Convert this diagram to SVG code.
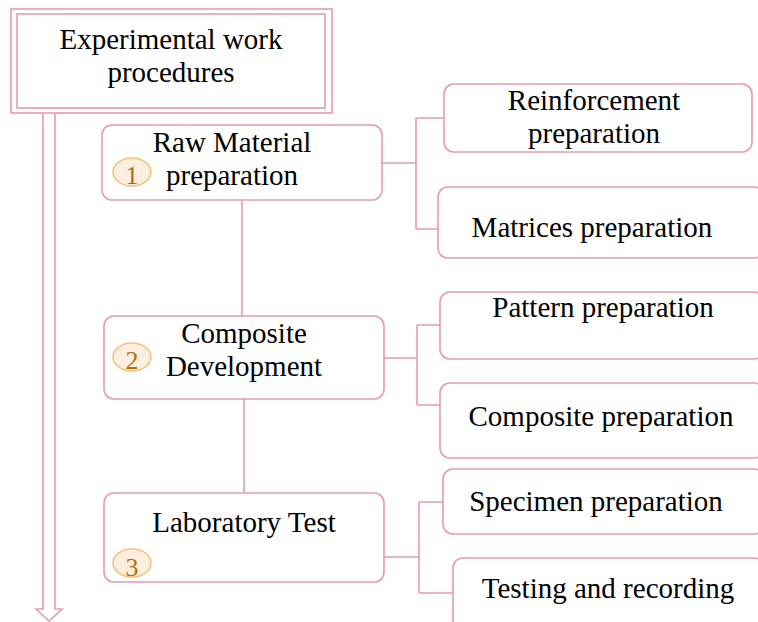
<svg xmlns="http://www.w3.org/2000/svg" width="758" height="622" viewBox="0 0 758 622">
<style>
.box{fill:#fff;stroke:#e59ab4;stroke-width:1.6}
.ln{fill:none;stroke:#e59ab4;stroke-width:1.6}
.t{font-family:"Liberation Serif","Times New Roman",serif;font-size:29px;fill:#000;text-anchor:middle}
.bd{fill:#fdeedf;stroke:#f5c07e;stroke-width:1.5}
.bn{font-family:"Liberation Serif","Times New Roman",serif;font-size:26px;fill:#a8700c;text-anchor:middle}
</style>
<rect width="758" height="622" fill="#fff"/>
<g id="connectors">
<path class="ln" d="M43,112 V609 H36 L49,621 L62,609 H55 V112"/>
<path class="ln" d="M242,200 V316 M244,399 V493"/>
<path class="ln" d="M382,163 H416 M416,118 V229 M416,118 H444 M416,229 H438"/>
<path class="ln" d="M384,358 H417 M417,325 V405 M417,325 H440 M417,405 H440"/>
<path class="ln" d="M384,557 H420 M419,502 V593 M419,502 H443 M419,593 H453"/>
</g>
<g id="root">
<rect x="11" y="9" width="321" height="104" fill="#fff" stroke="#e59ab4" stroke-width="1.6"/>
<rect x="17" y="14" width="308" height="94" fill="none" stroke="#e59ab4" stroke-width="1.6"/>
<text class="t" x="171" y="49">Experimental work</text>
<text class="t" x="171" y="82">procedures</text>
</g>
<g id="raw">
<rect class="box" x="102" y="125" width="280" height="75" rx="10"/>
<text class="t" x="232" y="152">Raw Material</text>
<text class="t" x="232" y="185">preparation</text>
<ellipse class="bd" cx="132" cy="172" rx="19" ry="14"/>
<text class="bn" x="132" y="184">1</text>
</g>
<g id="composite">
<rect class="box" x="104" y="316" width="280" height="83" rx="10"/>
<text class="t" x="244" y="343">Composite</text>
<text class="t" x="244" y="376">Development</text>
<ellipse class="bd" cx="132" cy="357" rx="19" ry="14"/>
<text class="bn" x="132" y="369">2</text>
</g>
<g id="lab">
<rect class="box" x="104" y="493" width="280" height="89" rx="10"/>
<text class="t" x="244" y="532">Laboratory Test</text>
<ellipse class="bd" cx="132" cy="563" rx="19" ry="14"/>
<text class="bn" x="132" y="576">3</text>
</g>
<g id="reinforcement">
<rect class="box" x="444" y="84" width="308" height="68" rx="10"/>
<text class="t" x="594" y="110">Reinforcement</text>
<text class="t" x="594" y="143">preparation</text>
</g>
<g id="matrices">
<rect class="box" x="438" y="187" width="326" height="71" rx="10"/>
<text class="t" x="592" y="237">Matrices preparation</text>
</g>
<g id="pattern">
<rect class="box" x="440" y="292" width="324" height="67" rx="10"/>
<text class="t" x="603" y="317">Pattern preparation</text>
</g>
<g id="compprep">
<rect class="box" x="440" y="383" width="324" height="75" rx="10"/>
<text class="t" x="601" y="426">Composite preparation</text>
</g>
<g id="specimen">
<rect class="box" x="443" y="469" width="321" height="65" rx="10"/>
<text class="t" x="596" y="511">Specimen preparation</text>
</g>
<g id="testing">
<rect class="box" x="453" y="558" width="311" height="80" rx="10"/>
<text class="t" x="608" y="598">Testing and recording</text>
</g>
</svg>
